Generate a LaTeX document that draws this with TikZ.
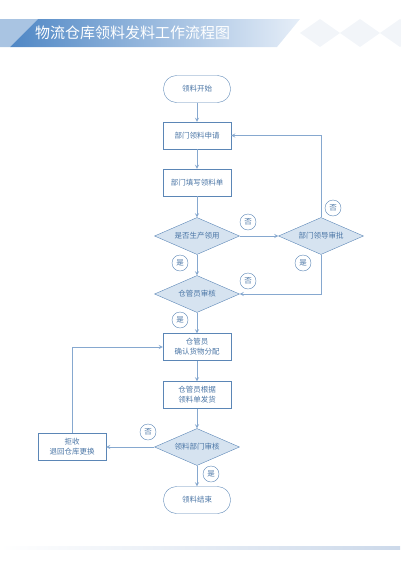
\documentclass[tikz,border=0pt]{standalone}
\usepackage{fontspec}
\setmainfont{Noto Sans CJK SC}
\usetikzlibrary{shapes.geometric}

\definecolor{lineblue}{HTML}{86A8CF}
\definecolor{boxblue}{HTML}{5B86B6}
\definecolor{textblue}{HTML}{4B76A6}
\definecolor{diafill}{HTML}{D6E3F0}
\definecolor{banddark}{HTML}{4F87C5}
\definecolor{bandlight}{HTML}{E6EEF8}
\definecolor{bandpale}{HTML}{A9C4E2}
\definecolor{patterngray}{HTML}{F2F5F9}
\definecolor{rulegray}{HTML}{CCD9EA}

\begin{document}
\begin{tikzpicture}[
      x=1pt, y=-1pt,
      every node/.style={font=\fontsize{7.5}{10}\selectfont, text=textblue, align=center},
      terminal/.style={draw=boxblue, rounded corners=13pt, minimum width=67pt, minimum height=27pt, fill=white},
      process/.style={draw=boxblue, minimum width=68pt, minimum height=27pt, fill=white},
      decision/.style={draw=boxblue, fill=diafill, diamond, aspect=2.3, inner sep=0pt, minimum width=85pt, minimum height=37pt},
      tag/.style={draw=boxblue, circle, fill=white, inner sep=0pt, minimum size=16pt, font=\fontsize{7.5}{8}\selectfont},
      arrow/.style={lineblue, line width=0.8pt, ->, >=stealth}
    ]
    \useasboundingbox (0,0) rectangle (400,565);

    % Header band
    \fill[bandpale] (0,19) -- (38,19) -- (10,47) -- (0,47) -- cycle;
    \shade[left color=banddark, right color=bandlight] (38,19) -- (300,19) -- (277,47) -- (10,47) -- cycle;
    \foreach \x in {300,340,380}
      \fill[patterngray] (\x,33) -- (\x+20,19) -- (\x+40,33) -- (\x+20,47) -- cycle;
    \node[font=\fontsize{15}{18}\selectfont, text=white, anchor=west, inner sep=0pt] (title) at (35,33) {物流仓库领料发料工作流程图};

    % Footer rule
    \shade[left color=white, right color=rulegray] (0,546) rectangle (400,549);

    % Nodes for steps
    \node[terminal] (start) at (197,89) {领料开始};
    \node[process] (apply) [below of=start, node distance=46.5pt] {部门领料申请};
    \node[process] (form) [below of=apply, node distance=47pt] {部门填写领料单};
    \node[decision] (choice) [below of=form, node distance=53.5pt] {是否生产领用};
    \node[decision] (approve) [right of=choice, node distance=124pt] {部门领导审批};
    \node[decision] (keeper) [below of=choice, node distance=58pt] {仓管员审核};
    \node[process] (confirm) [below of=keeper, node distance=53pt] {仓管员\\确认货物分配};
    \node[process] (issue) [below of=confirm, node distance=48pt] {仓管员根据\\领料单发货};
    \node[decision] (check) [below of=issue, node distance=52pt] {领料部门审核};
    \node[terminal] (finish) [below of=check, node distance=53pt] {领料结束};
    \node[process] (refuse) [left of=check, node distance=125pt] {拒收\\退回仓库更换};

    % Arrows between steps
    \draw[arrow] (start) -- (apply);
    \draw[arrow] (apply) -- (form);
    \draw[arrow] (form) -- (choice);
    \draw[arrow] (choice) -- (approve);
    \draw[arrow] (approve.north) |- (apply);
    \draw[arrow] (approve.south) |- (keeper);
    \draw[arrow] (choice) -- (keeper);
    \draw[arrow] (keeper) -- (confirm);
    \draw[arrow] (confirm) -- (issue);
    \draw[arrow] (issue) -- (check);
    \draw[arrow] (check) -- (finish);
    \draw[arrow] (check) -- (refuse);
    \draw[arrow] (refuse.north) |- (confirm);

    % Yes/no tags
    \node[tag] (no1) at (248,222) {否};
    \node[tag] (no2) at (333,208) {否};
    \node[tag] (yes1) at (180,263) {是};
    \node[tag] (yes2) at (303,263) {是};
    \node[tag] (no3) at (248,281) {否};
    \node[tag] (yes3) at (180,320) {是};
    \node[tag] (no4) at (148,432) {否};
    \node[tag] (yes4) at (211,474) {是};

    \end{tikzpicture}
\end{document}
